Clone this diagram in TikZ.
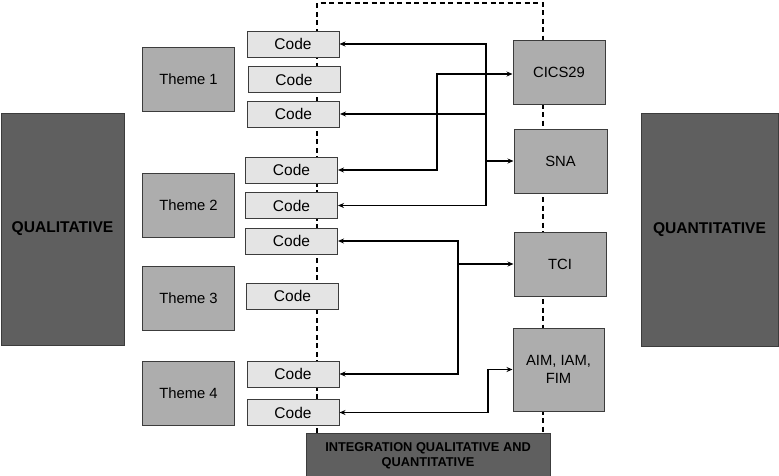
\documentclass[tikz,border=0pt]{standalone}
\usepackage{fontspec}
\setmainfont{Liberation Sans}
\usetikzlibrary{arrows.meta,backgrounds}
\definecolor{codefill}{HTML}{E4E4E4}
\definecolor{midfill}{HTML}{ADADAD}
\definecolor{darkfill}{HTML}{5F5F5F}
\definecolor{edge}{HTML}{3C3C3C}
\tikzset{
  box/.style={draw=edge, line width=1pt, inner sep=0pt, align=center},
  codebox/.style={box, fill=codefill, minimum width=92pt, minimum height=26pt, font=\fontsize{15.5}{17}\selectfont},
  themebox/.style={box, fill=midfill, minimum width=92pt, minimum height=64pt, font=\fontsize{14.8}{16}\selectfont},
  quantbox/.style={box, fill=midfill, minimum width=92pt, minimum height=64pt, font=\fontsize{14.8}{18}\selectfont},
  bigbox/.style={box, fill=darkfill, font=\bfseries\fontsize{15.6}{17}\selectfont},
  dashline/.style={line width=1.4pt, dash pattern=on 5pt off 3.5pt},
  conn/.style={line width=1.3pt, -{Stealth[length=6pt,width=5pt]}},
  biconn/.style={line width=1.3pt, {Stealth[length=6pt,width=5pt]}-{Stealth[length=6pt,width=5pt]}},
}
\begin{document}
\begin{tikzpicture}[x=1pt,y=-1pt]
\useasboundingbox (0,0) rectangle (779,475);
% big side boxes
\node[bigbox, minimum width=123pt, minimum height=232pt] (qual) at (62.5,229) {QUALITATIVE};
\node[bigbox, minimum width=137pt, minimum height=233pt] (quant) at (709.5,229.5) {QUANTITATIVE};
% themes
\node[themebox] (t1) at (188.5,79.5) {Theme 1};
\node[themebox] (t2) at (188.5,205) {Theme 2};
\node[themebox] (t3) at (188.5,298) {Theme 3};
\node[themebox] (t4) at (188.5,393) {Theme 4};
% codes
\node[codebox] (c1) at (293,44) {Code};
\node[codebox] (c2) at (294,79.5) {Code};
\node[codebox] (c3) at (293.5,114) {Code};
\node[codebox] (c4) at (291.5,170) {Code};
\node[codebox] (c5) at (291.5,205.5) {Code};
\node[codebox] (c6) at (291.5,241) {Code};
\node[codebox] (c7) at (292.5,296) {Code};
\node[codebox] (c8) at (293,374) {Code};
\node[codebox] (c9) at (293,412.5) {Code};
% quantitative measures
\node[quantbox] (cics) at (559,72.5) {CICS29};
\node[quantbox, minimum width=93pt] (sna) at (560.5,161) {SNA};
\node[quantbox] (tci) at (560,264) {TCI};
\node[quantbox, minimum width=91pt, minimum height=83pt] (aim) at (558.5,369.5) {AIM, IAM,\\FIM};
% integration
\node[bigbox, minimum width=244pt, minimum height=45pt, font=\bfseries\fontsize{12.8}{17}\selectfont, anchor=north] (integ) at (428,433) {\raisebox{3pt}{\shortstack{INTEGRATION QUALITATIVE AND\\[1pt]QUANTITATIVE}}};
% dashed frame
\coordinate (tl) at (317,3);
\coordinate (tr) at (543,3);
\begin{pgfonlayer}{background}
\draw[dashline] (integ.north -| tl) -- (tl) -- (tr) -- (integ.north -| tr);
\end{pgfonlayer}
% SNA connections
\coordinate (j1) at (486,161);
\draw[line width=1.8pt, -{Stealth[length=6pt,width=5pt]}] (j1) -- (sna.west);
\draw[conn] (j1) |- (c1.east);
\draw[conn] (j1) |- (c3.east);
\draw[conn] (j1) |- (c5.east);
% CICS29 connection
\coordinate (j2) at (437,74);
\draw[biconn] (c4.east) -| (j2) -- (cics.west |- j2);
% TCI connections
\coordinate (j3) at (458,264);
\draw[conn] (j3) -- (tci.west);
\draw[conn] (j3) |- (c6.east);
\draw[conn] (j3) |- (c8.east);
% AIM connection
\coordinate (j4) at (488,369.5);
\draw[biconn] (c9.east) -| (j4) -- (aim.west);
\end{tikzpicture}
\end{document}
